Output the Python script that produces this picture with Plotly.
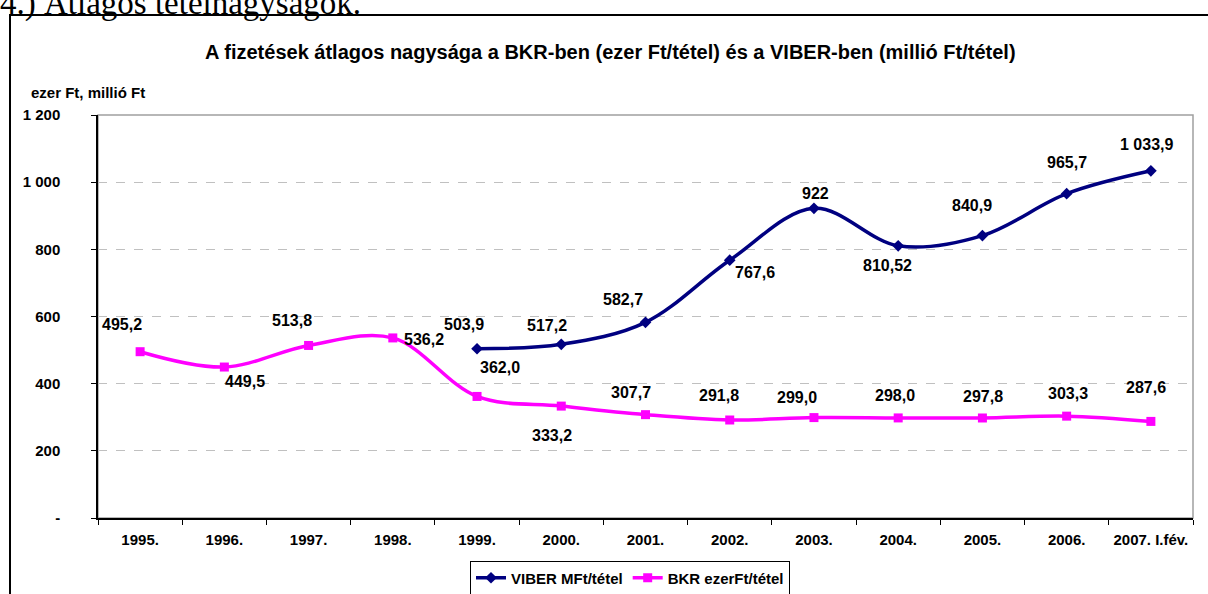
import plotly.graph_objects as go

# ---- data ----
categories = ["1995.", "1996.", "1997.", "1998.", "1999.", "2000.", "2001.",
              "2002.", "2003.", "2004.", "2005.", "2006.", "2007. I.fév."]
viber_categories = categories[4:]
viber_values = [503.9, 517.2, 582.7, 767.6, 922, 810.52, 840.9, 965.7, 1033.9]
viber_labels = ["503,9", "517,2", "582,7", "767,6", "922", "810,52", "840,9", "965,7", "1 033,9"]
bkr_values = [495.2, 449.5, 513.8, 536.2, 362.0, 333.2, 307.7, 291.8, 299.0,
              298.0, 297.8, 303.3, 287.6]
bkr_labels = ["495,2", "449,5", "513,8", "536,2", "362,0", "333,2", "307,7",
              "291,8", "299,0", "298,0", "297,8", "303,3", "287,6"]
y_tickvals = [0, 200, 400, 600, 800, 1000, 1200]
y_ticktext = ["-", "200", "400", "600", "800", "1 000", "1 200"]

# label offsets in pixels (dx right, dy down) relative to the point
viber_offsets = [(-13, -24), (-14, -19), (-23, -23), (25, 12), (2, -15),
                 (-11, 20), (-10, -30), (0, -31), (-4, -26)]
bkr_offsets = [(-18, -27), (21, 14), (-17, -25), (31, 2), (23, -29), (-9, 29),
               (-15, -22), (-11, -25), (-17, -20), (-3, -22), (1, -21),
               (1, -23), (-5, -34)]

FONT = "Liberation Sans"
W, H = 1208, 594
L, R, T, B = 98, 15, 115, 76
PW, PH = W - L - R, H - T - B


def px(x):
    return (x - L) / PW


def py(y):
    return (H - B - y) / PH


fig = go.Figure()
fig.add_trace(go.Scatter(
    x=viber_categories, y=viber_values, name="VIBER MFt/tétel",
    mode="lines+markers",
    line=dict(color="#000080", width=3.5, shape="spline", smoothing=1.0),
    marker=dict(symbol="diamond", size=9, color="#000080"),
))
fig.add_trace(go.Scatter(
    x=categories, y=bkr_values, name="BKR ezerFt/tétel",
    mode="lines+markers",
    line=dict(color="#FF00FF", width=3.5, shape="spline", smoothing=1.0),
    marker=dict(symbol="square", size=9, color="#FF00FF"),
))

label_font = dict(family=FONT, size=16, color="black", weight="bold")
annotations = []
for c, v, t, (dx, dy) in zip(viber_categories, viber_values, viber_labels, viber_offsets):
    annotations.append(dict(x=categories.index(c), y=v, xref="x", yref="y", text=t,
                            showarrow=False, xshift=dx, yshift=-dy, font=label_font))
for c, v, t, (dx, dy) in zip(categories, bkr_values, bkr_labels, bkr_offsets):
    annotations.append(dict(x=categories.index(c), y=v, xref="x", yref="y", text=t,
                            showarrow=False, xshift=dx, yshift=-dy, font=label_font))

annotations.append(dict(
    x=px(610), y=py(52), xref="paper", yref="paper", xanchor="center", yanchor="middle",
    text="A fizetések átlagos nagysága a BKR-ben (ezer Ft/tétel) és a VIBER-ben (millió Ft/tétel)",
    showarrow=False, font=dict(family=FONT, size=20, color="black", weight="bold")))
annotations.append(dict(
    x=px(29), y=py(92), xref="paper", yref="paper", xanchor="left", yanchor="middle",
    text="ezer Ft, millió Ft", showarrow=False,
    font=dict(family=FONT, size=15, color="black", weight="bold")))
annotations.append(dict(
    x=px(-2), y=py(24), xref="paper", yref="paper", xanchor="left", yanchor="bottom",
    text="4.) Átlagos tételnagyságok.", showarrow=False,
    font=dict(family="Liberation Serif", size=33, color="black")))

shapes = [
    # plot-area border (gray)
    dict(type="rect", xref="paper", yref="paper", x0=0, x1=1, y0=0, y1=1,
         line=dict(color="#A0A0A0", width=1.5), layer="below"),
    # outer chart frame
    dict(type="rect", xref="paper", yref="paper", x0=px(10), x1=px(1230),
         y0=py(620), y1=py(15), line=dict(color="black", width=2), layer="above"),
]

fig.update_layout(
    width=W, height=H,
    margin=dict(l=L, r=R, t=T, b=B, autoexpand=False),
    paper_bgcolor="white", plot_bgcolor="white",
    showlegend=True,
    legend=dict(orientation="h", x=px(630), y=py(578), xanchor="center", yanchor="middle",
                bordercolor="black", borderwidth=1, bgcolor="white",
                font=dict(family=FONT, size=15, color="black", weight="bold"),
                itemwidth=30, tracegroupgap=0),
    annotations=annotations,
    shapes=shapes,
    xaxis=dict(type="category", categoryorder="array", categoryarray=categories,
               range=[-0.5, len(categories) - 0.5],
               showline=True, linecolor="black", linewidth=1.5,
               ticks="outside", tickson="boundaries", ticklen=5, tickcolor="black",
               showgrid=False, zeroline=False,
               tickfont=dict(family=FONT, size=15, color="black", weight="bold"),
               ticklabelstandoff=7),
    yaxis=dict(range=[0, 1200], tickvals=y_tickvals, ticktext=y_ticktext,
               showline=True, linecolor="black", linewidth=1.5,
               ticks="outside", ticklen=5, tickcolor="black",
               showgrid=True, gridcolor="#C0C0C0", griddash="dash", gridwidth=1,
               zeroline=False,
               tickfont=dict(family=FONT, size=15, color="black", weight="bold"),
               ticklabelstandoff=28),
)

fig.write_html("out.html", config={"displayModeBar": False},
               post_script="document.body.style.margin='0px';")
